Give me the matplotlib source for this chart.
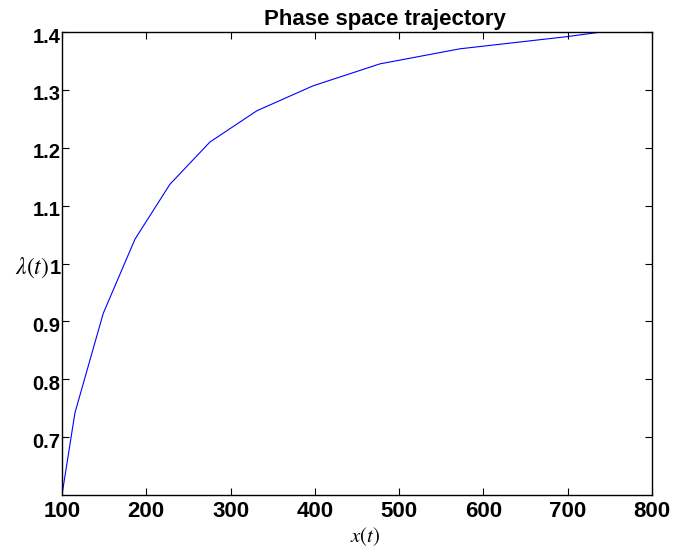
import matplotlib
matplotlib.use("Agg")
import matplotlib.pyplot as plt
from matplotlib.font_manager import FontProperties
from matplotlib.transforms import ScaledTranslation

plt.rcParams["mathtext.fontset"] = "stix"

x_vals = [100, 115.4, 149.0, 186.6, 228.1, 275.6, 331.3, 397.8, 477.3, 572.2, 699.0, 760.0]
y_vals = [0.600, 0.742, 0.914, 1.042, 1.137, 1.210, 1.264, 1.307, 1.345, 1.371, 1.392, 1.404]
x_ticks = [100, 200, 300, 400, 500, 600, 700, 800]
y_ticks = [0.7, 0.8, 0.9, 1.0, 1.1, 1.2, 1.3, 1.4]
y_ticklabels = ["0.7", "0.8", "0.9", "1", "1.1", "1.2", "1.3", "1.4"]

fig = plt.figure(figsize=(6.78, 5.53), dpi=100)
ax = fig.add_axes([0.0914, 0.1049, 0.8703, 0.8372])
ax.plot(x_vals, y_vals, color=(0, 0, 1), linewidth=0.8)
ax.set_xlim(100, 800)
ax.set_ylim(0.6, 1.4)
ax.set_xticks(x_ticks)
ax.set_yticks(y_ticks)
ax.set_yticklabels(y_ticklabels)
xfp = FontProperties(family="Liberation Sans", weight="bold", size=16)
yfp = FontProperties(family="Liberation Sans", weight="bold", size=14.5)
ax.tick_params(direction="in", length=5, width=0.8, top=True, right=True, colors="black")
ax.tick_params(axis="x", pad=4)
ax.tick_params(axis="y", pad=1)
for lab in ax.get_xticklabels():
    lab.set_fontproperties(xfp)
off = ScaledTranslation(0, -3 / 100, fig.dpi_scale_trans)
for lab in ax.get_yticklabels():
    lab.set_fontproperties(yfp)
    lab.set_transform(lab.get_transform() + off)
for s in ax.spines.values():
    s.set_linewidth(1.0)

ax.text(0.547, 1.015, "Phase space trajectory", transform=ax.transAxes,
        ha="center", va="baseline", fontfamily="Liberation Sans",
        fontweight="bold", fontsize=16)
ax.set_xlabel(r"$x(t)$", fontsize=15, ha="center", va="center")
ax.xaxis.set_label_coords(0.514, -0.089)
ax.set_ylabel(r"$\lambda(t)$", fontsize=17, rotation=0, ha="right", va="center")
ax.yaxis.set_label_coords(-0.022, 0.49)
fig.savefig("out.png", dpi=100)
